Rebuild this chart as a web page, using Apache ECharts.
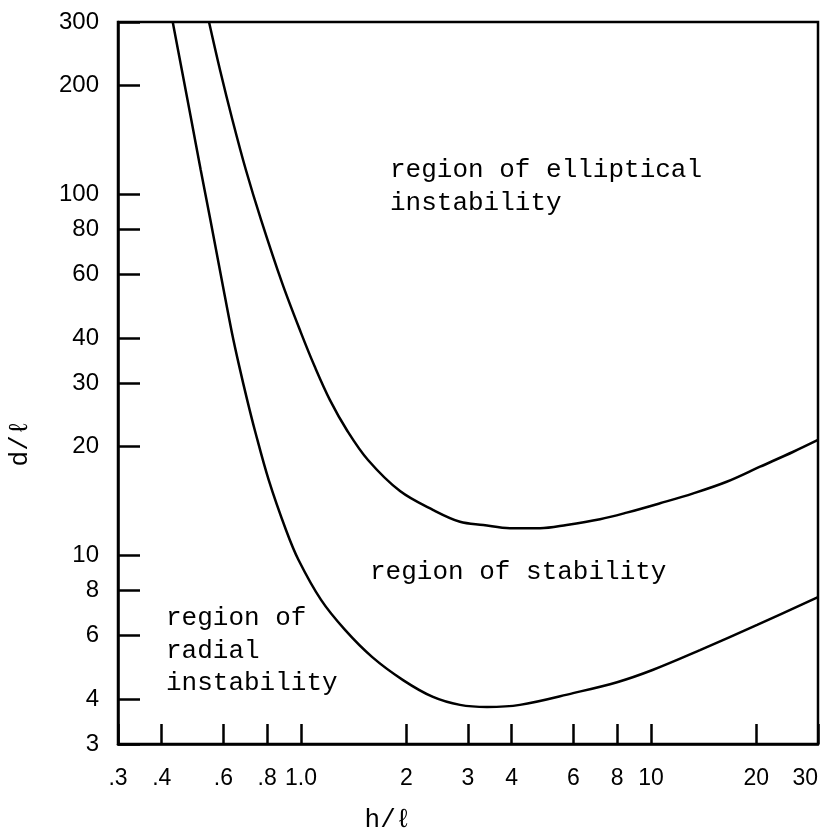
<!DOCTYPE html>
<html>
<head>
<meta charset="utf-8">
<script src="https://cdn.jsdelivr.net/npm/echarts@6/dist/echarts.min.js"></script>
<style>html,body{margin:0;padding:0;background:#fff;}#c{width:828px;height:838px;}</style>
</head>
<body>
<div id="c"></div>
<script>
const xTicks = [0.3, 0.4, 0.6, 0.8, 1, 2, 3, 4, 6, 8, 10, 20, 30];
const xTickLabels = ['.3', '.4', '.6', '.8', '1.0', '2', '3', '4', '6', '8', '10', '20', '30'];
const yTicks = [3, 4, 6, 8, 10, 20, 30, 40, 60, 80, 100, 200, 300];
const yTickLabels = ['3', '4', '6', '8', '10', '20', '30', '40', '60', '80', '100', '200', '300'];

// boundary of elliptical instability
const upperX = [0.546, 0.587, 0.637, 0.696, 0.769, 0.883, 1.0, 1.096, 1.21, 1.353, 1.554, 1.918, 2.388, 2.846, 3.318, 3.954, 4.818, 5.74, 7.15, 8.52, 10.61, 13.21, 16.45, 20.49, 25.51, 30];
const upperY = [300, 220.9, 160.6, 116.7, 84.9, 56.8, 41.3, 33.2, 26.9, 22.2, 18.36, 15.06, 13.34, 12.38, 12.13, 11.88, 11.88, 12.13, 12.58, 13.12, 13.93, 14.84, 15.98, 17.59, 19.35, 20.86];
// boundary of radial instability
const lowerX = [0.43, 0.4566, 0.486, 0.517, 0.551, 0.596, 0.635, 0.667, 0.702, 0.738, 0.808, 0.906, 0.984, 1.141, 1.336, 1.595, 1.957, 2.383, 2.846, 3.40, 4.22, 5.99, 8.0, 10.1, 13.8, 20.1, 30];
const lowerY = [300, 220.9, 160.6, 116.7, 84.9, 56.8, 41.3, 33.2, 26.9, 22.2, 16.2, 11.75, 9.70, 7.52, 6.21, 5.23, 4.51, 4.05, 3.85, 3.80, 3.85, 4.15, 4.45, 4.81, 5.46, 6.41, 7.66];

const regionLabels = ['region of elliptical\ninstability', 'region of stability', 'region of\nradial\ninstability'];
const xName = 'h/ℓ';
const yName = 'd/ℓ';

function zip(a, b) { return a.map((v, i) => [v, b[i]]); }
function lookup(ticks, labels, v) {
  for (let i = 0; i < ticks.length; i++) {
    if (Math.abs(ticks[i] - v) / ticks[i] < 1e-6) return labels[i];
  }
  return '';
}

const chart = echarts.init(document.getElementById('c'), null, {renderer: 'canvas'});
const mono = '"Liberation Mono", "DejaVu Sans Mono", monospace';
const sans = '"Liberation Sans", "DejaVu Sans", sans-serif';
const lineStyle = {color: '#000', width: 2.5};

chart.setOption({
  animation: false,
  backgroundColor: '#fff',
  grid: {
    left: 118, right: 10, top: 22, bottom: 94,
    containLabel: false, outerBoundsMode: 'none',
    show: true, borderColor: '#000', borderWidth: 2.5
  },
  xAxis: {
    type: 'log', logBase: 10, min: 0.3, max: 30,
    axisLine: {show: true, lineStyle: lineStyle},
    axisTick: {show: true, inside: true, length: 20, lineStyle: lineStyle, customValues: xTicks},
    minorTick: {show: false},
    splitLine: {show: false},
    axisLabel: {
      customValues: xTicks, color: '#000', fontFamily: sans, fontSize: 23, margin: 23,
      alignMaxLabel: 'right',
      formatter: v => lookup(xTicks, xTickLabels, v)
    }
  },
  yAxis: {
    type: 'log', logBase: 10, min: 3, max: 300,
    axisLine: {show: true, lineStyle: lineStyle},
    axisTick: {show: true, inside: true, length: 22, lineStyle: lineStyle, customValues: yTicks},
    minorTick: {show: false},
    splitLine: {show: false},
    axisLabel: {
      customValues: yTicks, color: '#000', fontFamily: sans, fontSize: 24, margin: 19,
      formatter: v => lookup(yTicks, yTickLabels, v)
    }
  },
  series: [
    {type: 'line', data: zip(upperX, upperY), smooth: 0.35, showSymbol: false, symbol: 'none', lineStyle: lineStyle, clip: true},
    {type: 'line', data: zip(lowerX, lowerY), smooth: 0.35, showSymbol: false, symbol: 'none', lineStyle: lineStyle, clip: true}
  ],
  graphic: [
    {type: 'text', x: 390, y: 154, style: {text: regionLabels[0], fontFamily: mono, fontSize: 26, lineHeight: 33, fill: '#000', align: 'left', verticalAlign: 'top'}},
    {type: 'text', x: 370, y: 556, style: {text: regionLabels[1], fontFamily: mono, fontSize: 26, lineHeight: 33, fill: '#000', align: 'left', verticalAlign: 'top'}},
    {type: 'text', x: 166, y: 602, style: {text: regionLabels[2], fontFamily: mono, fontSize: 26, lineHeight: 32.5, fill: '#000', align: 'left', verticalAlign: 'top'}},
    {type: 'text', x: 388, y: 820, style: {text: xName, fontFamily: mono, fontSize: 26, fill: '#000', align: 'center', verticalAlign: 'middle'}},
    {type: 'text', x: 20, y: 443, rotation: Math.PI / 2, style: {text: yName, fontFamily: mono, fontSize: 26, fill: '#000', align: 'center', verticalAlign: 'middle'}}
  ]
});
</script>
</body>
</html>
